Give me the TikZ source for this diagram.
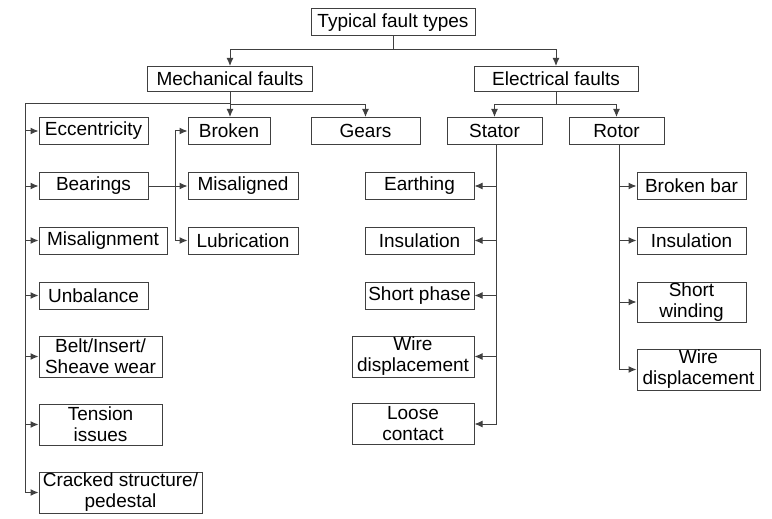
\documentclass[tikz,border=0pt]{standalone}
\usepackage{fontspec}
\setmainfont{Liberation Sans}
\usetikzlibrary{arrows.meta}

\begin{document}
\begin{tikzpicture}[
   x=1pt,y=-1pt,
   font=\fontsize{19}{21}\selectfont,
   fault/.style={draw=black!75,line width=1pt,inner sep=0pt,align=center,minimum height=27pt},
   twoline/.style={fault,minimum height=41pt},
   to/.style={-{Latex[length=8pt,width=7pt]},line width=1pt,draw=black!75},
   line/.style={line width=1pt,draw=black!75}]
\useasboundingbox (0,0) rectangle (772,519);
\node[fault,minimum width=164pt] (top) at (393,22.5) {Typical fault types};
\node[fault,minimum width=165pt,minimum height=25pt] (mech) at (230,79) {Mechanical faults};
\node[fault,minimum width=164pt,minimum height=25pt] (elec) at (556,79) {Electrical faults};
\node[fault,minimum width=109pt] (ecc) at (93.5,131) {Eccentricity};
\node[fault,minimum width=82pt] (brk) at (229,131) {Broken};
\node[fault,minimum width=109pt] (gears) at (365.5,131) {Gears};
\node[fault,minimum width=95pt] (stator) at (494.5,131) {Stator};
\node[fault,minimum width=95pt] (rotor) at (616.5,131) {Rotor};
\node[fault,minimum width=109pt] (bear) at (93.5,186) {Bearings};
\node[fault,minimum width=110pt] (misd) at (243,186) {Misaligned};
\node[fault,minimum width=128pt] (misal) at (103,240.5) {Misalignment};
\node[fault,minimum width=110pt] (lub) at (243,240.5) {Lubrication};
\node[fault,minimum width=109pt] (unb) at (93.5,295.5) {Unbalance};
\node[twoline,minimum width=123pt] (belt) at (100.5,356.5) {Belt/Insert/\\Sheave wear};
\node[twoline,minimum width=123pt] (tens) at (100.5,424.5) {Tension\\issues};
\node[twoline,minimum width=163pt] (crack) at (120.5,492.5) {Cracked structure/\\pedestal};
\node[fault,minimum width=109pt] (earth) at (419.5,186) {Earthing};
\node[fault,minimum width=109pt] (sins) at (419.5,240.5) {Insulation};
\node[fault,minimum width=109pt] (short) at (419.5,295.5) {Short phase};
\node[twoline,minimum width=122pt] (swire) at (413,356.5) {Wire\\displacement};
\node[twoline,minimum width=122pt] (loose) at (413,424) {Loose\\contact};
\node[fault,minimum width=109pt] (bbar) at (691.5,186) {Broken bar};
\node[fault,minimum width=109pt] (rins) at (691.5,240.5) {Insulation};
\node[twoline,minimum width=109pt,minimum height=40pt] (swind) at (691.5,302) {Short\\winding};
\node[twoline,minimum width=123pt] (rwire) at (698.5,369.5) {Wire\\displacement};
\coordinate (mrail) at (25,104);
\coordinate (bj) at (175,186);
\draw[to] (top.south) -- ++(0,13) -| (mech.north);
\draw[to] (top.south) -- ++(0,13) -| (elec.north);
\draw[to] (mech.south) -- ++(0,13) -| (gears.north);
\draw[to] (mech.south) -- (mech.south |- brk.north);
\draw[line] (mech.south |- mrail) -- (mrail);
\draw[to] (mrail) |- (ecc.west);
\draw[to] (mrail |- bear.west) -- (bear.west);
\draw[to] (mrail |- misal.west) -- (misal.west);
\draw[to] (mrail |- unb.west) -- (unb.west);
\draw[to] (mrail |- belt.west) -- (belt.west);
\draw[to] (mrail |- tens.west) -- (tens.west);
\draw[to] (mrail) |- (crack.west);
\draw[to] (bear.east) -- (misd.west);
\draw[to] (bj) |- (brk.west);
\draw[to] (bj) |- (lub.west);
\draw[to] (elec.south) -- ++(0,13) -| (stator.north);
\draw[to] (elec.south) -- ++(0,13) -| (rotor.north);
\draw[to] ([xshift=1.5pt]stator.south) |- (loose.east);
\draw[to] ([xshift=1.5pt]stator.south |- earth.east) -- (earth.east);
\draw[to] ([xshift=1.5pt]stator.south |- sins.east) -- (sins.east);
\draw[to] ([xshift=1.5pt]stator.south |- short.east) -- (short.east);
\draw[to] ([xshift=1.5pt]stator.south |- swire.east) -- (swire.east);
\draw[to] ([xshift=2.5pt]rotor.south) |- (rwire.west);
\draw[to] ([xshift=2.5pt]rotor.south |- bbar.west) -- (bbar.west);
\draw[to] ([xshift=2.5pt]rotor.south |- rins.west) -- (rins.west);
\draw[to] ([xshift=2.5pt]rotor.south |- swind.west) -- (swind.west);
\end{tikzpicture}
\end{document}
